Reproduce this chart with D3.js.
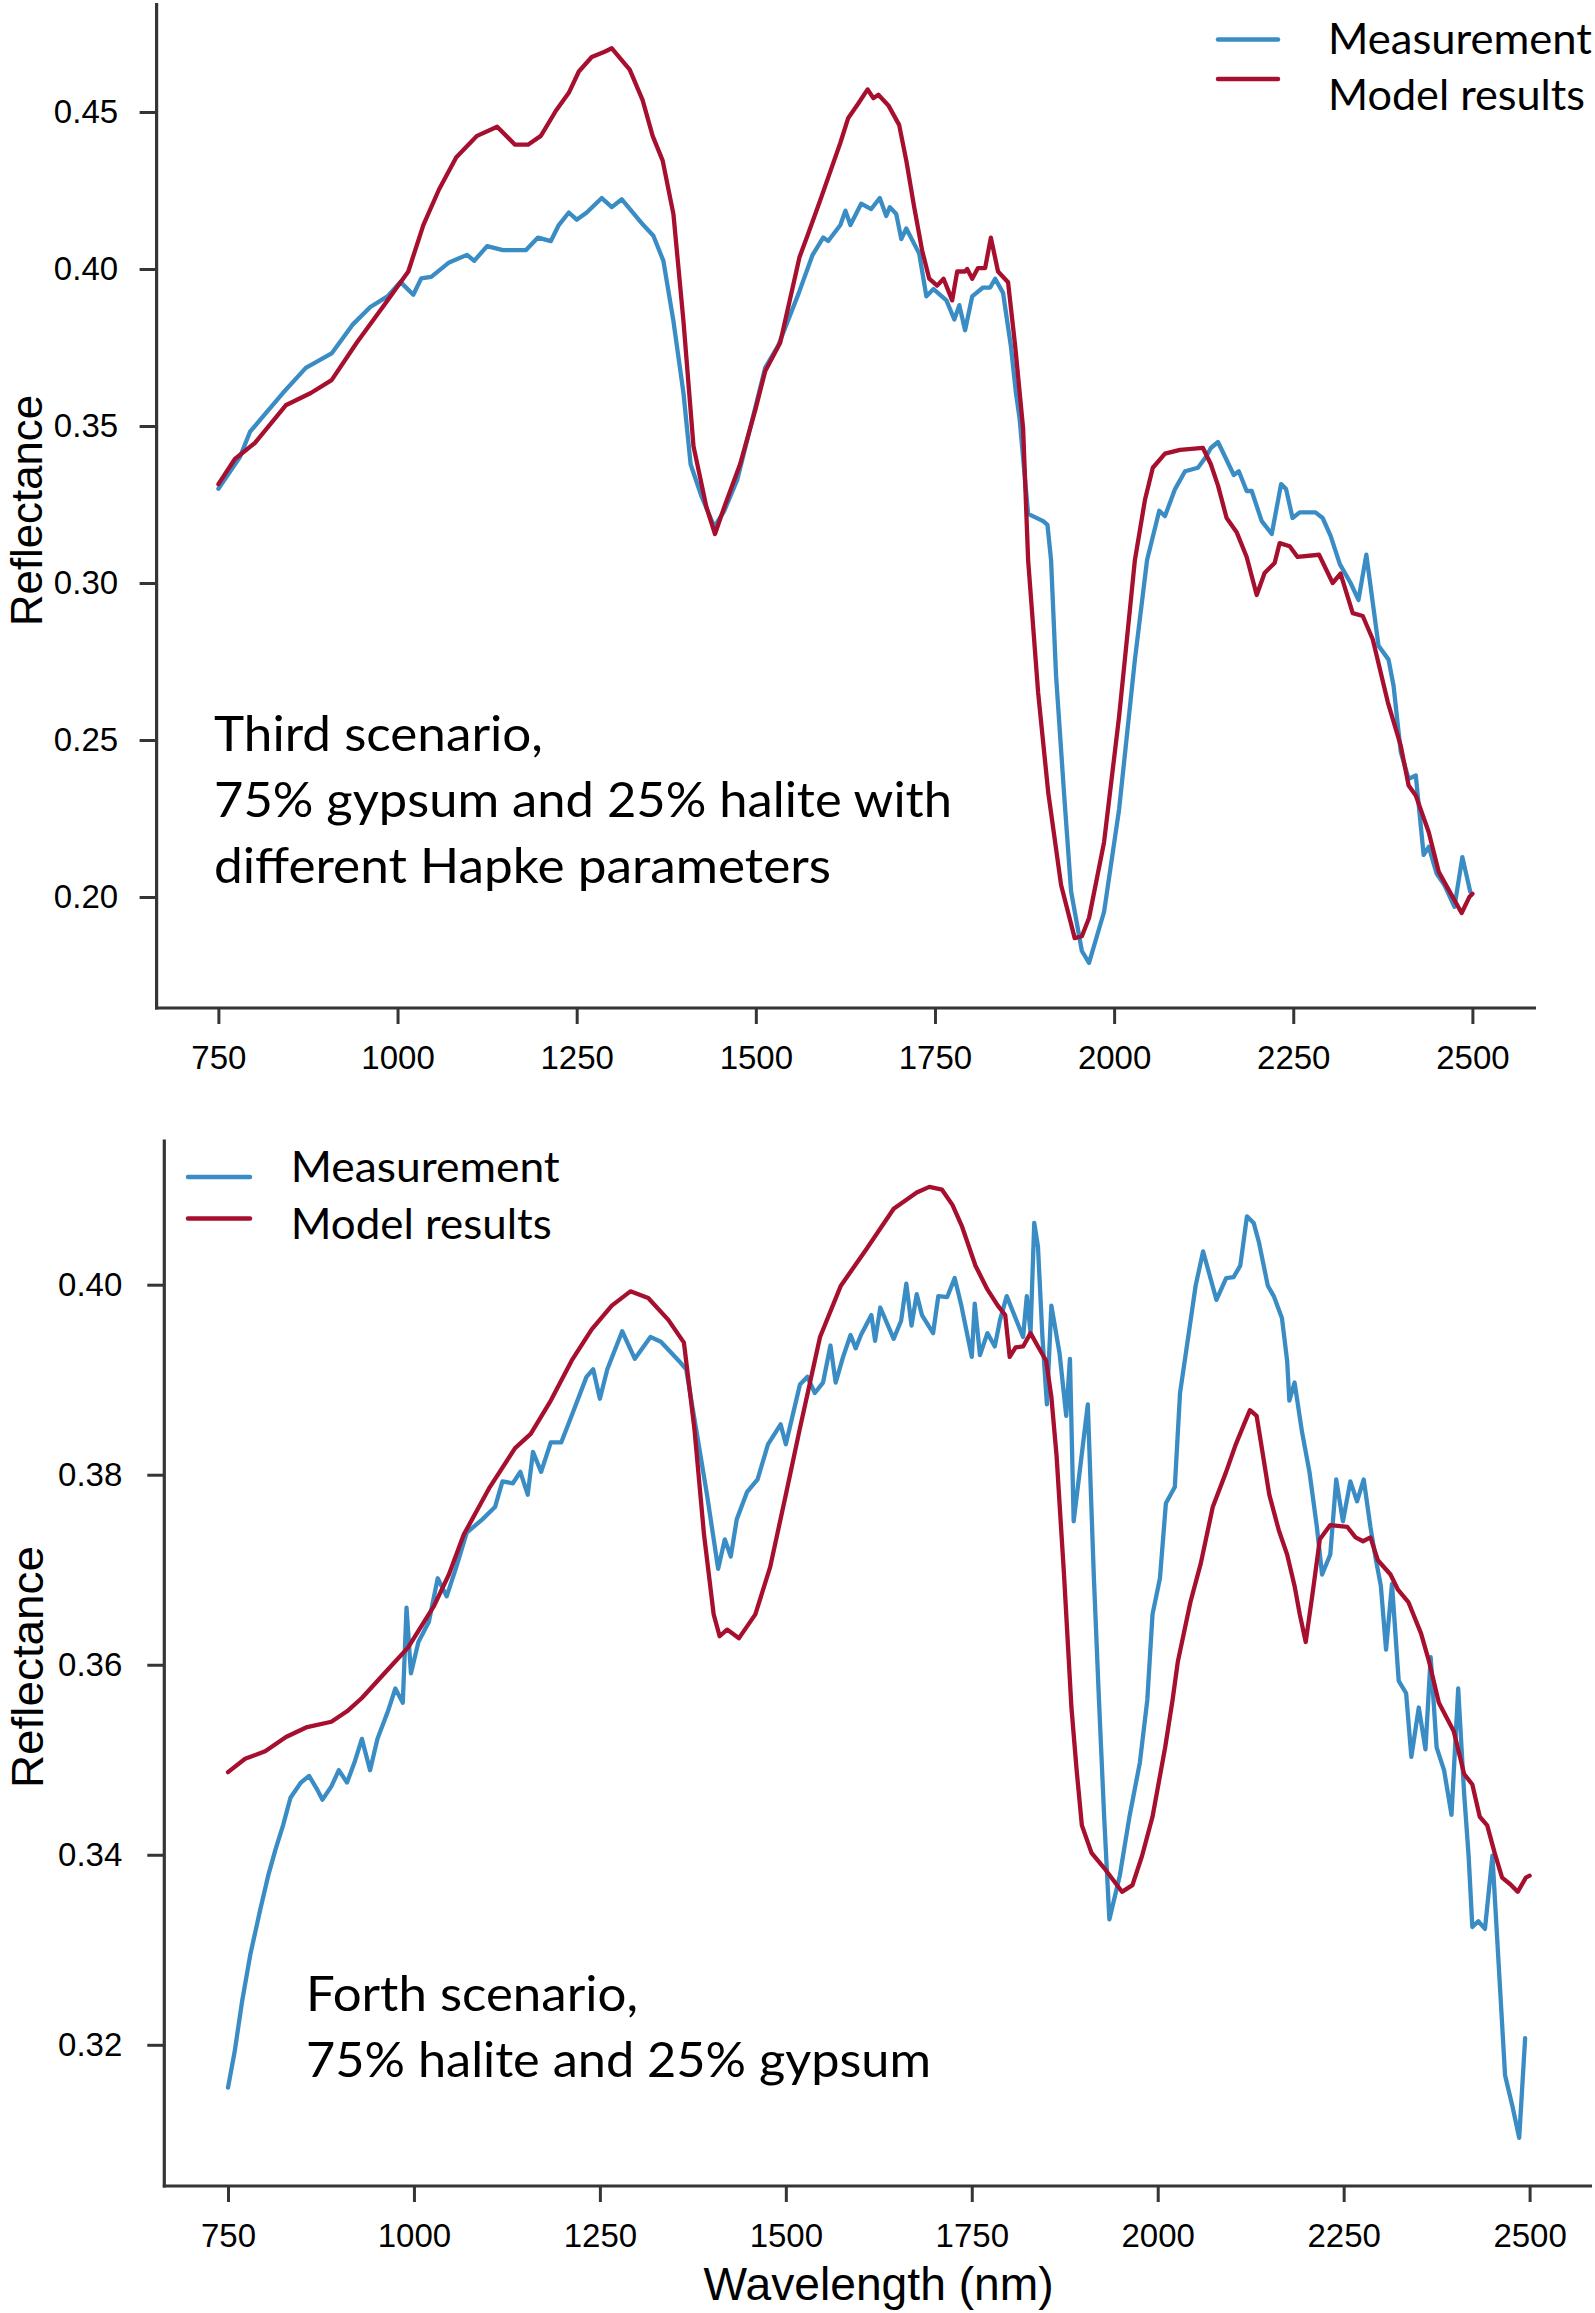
<!DOCTYPE html>
<html>
<head>
<meta charset="utf-8">
<script src="https://cdn.jsdelivr.net/npm/d3@7"></script>
<style>
  html, body { margin: 0; padding: 0; background: #fff; }
  svg { display: block; }
</style>
</head>
<body>
<svg id="chart" width="1595" height="2313"></svg>
<script>
// ---------------- DATA ----------------
const xTickValues = [750, 1000, 1250, 1500, 1750, 2000, 2250, 2500];
const topYTickValues = [0.20, 0.25, 0.30, 0.35, 0.40, 0.45];
const bottomYTickValues = [0.32, 0.34, 0.36, 0.38, 0.40];
const seriesNames = ["Measurement", "Model results"];
const topAnnotation = ["Third scenario,", "75% gypsum and 25% halite with", "different Hapke parameters"];
const bottomAnnotation = ["Forth scenario,", "75% halite and 25% gypsum"];
const xTitle = "Wavelength (nm)";
const yTitle = "Reflectance";

// Third scenario – measurement [wavelength nm, reflectance]
const thirdMeasurement = [
[750,0.330],[780,0.3401],[794,0.3481],[815,0.3538],[840,0.3605],[872,0.3685],[908,0.3731],[937,0.3822],
[962,0.3879],[986,0.3913],[1004,0.3959],[1022,0.3918],[1033,0.397],[1047,0.3975],[1072,0.4021],[1097,0.4045],
[1107,0.4026],[1125,0.4073],[1147,0.406],[1179,0.406],[1196,0.410],[1214,0.4089],[1225,0.414],[1239,0.418],
[1250,0.4157],[1264,0.418],[1285,0.4226],[1299,0.4197],[1313,0.4222],[1343,0.414],[1357,0.4106],[1371,0.4026],
[1385,0.3834],[1399,0.3605],[1409,0.3378],[1424,0.3277],[1442,0.3179],[1456,0.323],[1474,0.3328],[1492,0.3492],
[1513,0.3685],[1531,0.3755],[1560,0.3924],[1579,0.4044],[1594,0.410],[1601,0.4089],[1618,0.414],[1625,0.4186],
[1632,0.414],[1647,0.4208],[1661,0.4191],[1673,0.4226],[1682,0.4169],[1687,0.4197],[1696,0.4175],[1703,0.4095],
[1710,0.4129],[1728,0.4049],[1738,0.3913],[1748,0.3936],[1766,0.390],[1777,0.3839],[1784,0.3885],[1792,0.3805],
[1802,0.3913],[1817,0.3941],[1827,0.3941],[1834,0.3969],[1845,0.3924],[1856,0.3753],[1863,0.3605],[1868,0.3526],
[1880,0.322],[1901,0.3197],[1907,0.3185],[1912,0.3073],[1919,0.2704],[1930,0.2334],[1940,0.2017],[1955,0.1828],
[1965,0.179],[1986,0.1953],[2007,0.228],[2029,0.2756],[2046,0.3073],[2063,0.323],[2071,0.3213],[2085,0.3299],
[2099,0.3356],[2117,0.3367],[2128,0.3401],[2135,0.343],[2145,0.3449],[2167,0.3344],[2174,0.3356],[2185,0.3293],
[2192,0.3293],[2206,0.3197],[2220,0.3156],[2233,0.3315],[2240,0.3299],[2249,0.3207],[2259,0.3225],[2281,0.3225],
[2291,0.3207],[2302,0.3151],[2315,0.306],[2330,0.300],[2341,0.2946],[2352,0.309],[2369,0.280],[2383,0.2756],
[2390,0.2672],[2400,0.2462],[2411,0.2376],[2421,0.2387],[2432,0.2134],[2439,0.216],[2450,0.2075],[2461,0.2038],
[2475,0.1969],[2486,0.2127],[2497,0.2017]
];

// Third scenario – model results
const thirdModel = [
[750,0.3315],[773,0.3395],[801,0.3446],[844,0.3566],[879,0.3605],[908,0.3646],[943,0.3765],[986,0.390],
[1015,0.3992],[1036,0.414],[1058,0.4254],[1082,0.4356],[1111,0.4424],[1139,0.4453],[1164,0.4396],[1182,0.4396],
[1200,0.4424],[1221,0.4504],[1239,0.4561],[1253,0.4629],[1271,0.4675],[1289,0.4692],[1299,0.4703],[1324,0.4635],
[1342,0.4538],[1356,0.4424],[1370,0.4345],[1385,0.4175],[1399,0.3834],[1413,0.3436],[1431,0.3242],[1443,0.3156],
[1456,0.3242],[1478,0.3378],[1499,0.3549],[1513,0.3674],[1534,0.3765],[1561,0.4038],[1572,0.4106],[1590,0.422],
[1604,0.4311],[1618,0.4402],[1629,0.4481],[1643,0.4527],[1656,0.4572],[1664,0.4544],[1671,0.4555],[1685,0.4521],
[1700,0.4459],[1710,0.4345],[1721,0.4197],[1732,0.406],[1742,0.3969],[1753,0.3947],[1762,0.3969],[1774,0.390],
[1781,0.3992],[1792,0.3992],[1795,0.400],[1802,0.3969],[1810,0.4003],[1820,0.4003],[1828,0.410],[1838,0.3992],
[1852,0.3958],[1862,0.3753],[1873,0.3492],[1880,0.3073],[1894,0.265],[1908,0.2334],[1926,0.2038],[1945,0.1869],
[1955,0.1875],[1965,0.1933],[1986,0.2175],[2007,0.2576],[2029,0.3073],[2043,0.3264],[2054,0.3367],[2071,0.3412],
[2092,0.3424],[2124,0.343],[2135,0.3378],[2145,0.331],[2157,0.3207],[2171,0.3162],[2185,0.3083],[2199,0.2962],
[2210,0.3032],[2224,0.3064],[2231,0.3127],[2245,0.3117],[2256,0.3083],[2286,0.309],[2305,0.300],[2316,0.303],
[2333,0.2904],[2347,0.2895],[2361,0.282],[2382,0.262],[2400,0.2482],[2411,0.2355],[2421,0.2323],[2439,0.2207],
[2453,0.208],[2471,0.2006],[2485,0.1949],[2496,0.2001],[2500,0.201]
];

// Forth scenario – measurement
const forthMeasurement = [
[750,0.3155],[759,0.3193],[769,0.3246],[780,0.3295],[793,0.3341],[804,0.3378],[814,0.3406],[824,0.3431],
[834,0.346],[848,0.3476],[859,0.3483],[869,0.347],[877,0.3458],[889,0.3472],[899,0.3489],[910,0.3476],
[920,0.3497],[930,0.3522],[941,0.3489],[951,0.3522],[965,0.3551],[975,0.3575],[985,0.356],[990,0.366],
[996,0.3591],[1006,0.3624],[1020,0.3645],[1032,0.3691],[1044,0.3672],[1057,0.3703],[1071,0.3739],[1092,0.3753],
[1109,0.3766],[1119,0.3793],[1133,0.3791],[1143,0.3803],[1153,0.3779],[1160,0.3824],[1171,0.3803],[1184,0.3834],
[1198,0.3834],[1212,0.3862],[1232,0.3903],[1241,0.3911],[1250,0.388],[1260,0.3911],[1280,0.3951],[1297,0.3922],
[1318,0.3945],[1332,0.394],[1356,0.392],[1366,0.3911],[1380,0.3845],[1394,0.3779],[1409,0.3701],[1418,0.3732],
[1426,0.3714],[1434,0.3753],[1448,0.3782],[1462,0.3795],[1476,0.3832],[1493,0.3853],[1500,0.3832],[1519,0.3895],
[1529,0.3903],[1539,0.3886],[1550,0.3897],[1560,0.3936],[1567,0.3897],[1577,0.3924],[1587,0.3947],[1594,0.3933],
[1601,0.3947],[1615,0.3968],[1620,0.3941],[1627,0.3976],[1645,0.3943],[1655,0.3962],[1662,0.4001],[1669,0.3957],
[1676,0.399],[1683,0.3968],[1698,0.3949],[1705,0.3988],[1717,0.3987],[1727,0.4007],[1736,0.3978],[1750,0.3924],
[1754,0.398],[1761,0.3926],[1771,0.3949],[1781,0.3935],[1788,0.3963],[1797,0.3988],[1819,0.3945],[1824,0.3988],
[1829,0.395],[1834,0.4065],[1839,0.404],[1845,0.3945],[1851,0.3874],[1857,0.3978],[1868,0.3928],[1877,0.3862],
[1882,0.3922],[1887,0.3751],[1906,0.3874],[1914,0.3695],[1921,0.3563],[1928,0.344],[1935,0.3332],[1949,0.3378],
[1962,0.344],[1976,0.3497],[1986,0.3563],[1993,0.3653],[2003,0.3691],[2011,0.377],[2023,0.3787],[2030,0.3886],
[2041,0.3945],[2051,0.3999],[2061,0.4035],[2079,0.3984],[2092,0.4007],[2102,0.4008],[2111,0.402],[2120,0.4072],
[2129,0.4065],[2136,0.4045],[2148,0.3999],[2156,0.3988],[2167,0.3965],[2174,0.392],[2177,0.3878],[2184,0.3897],
[2194,0.3845],[2204,0.3803],[2214,0.3745],[2221,0.3695],[2232,0.3716],[2240,0.3795],[2249,0.3751],[2259,0.3793],
[2268,0.3772],[2277,0.3795],[2286,0.3745],[2293,0.3712],[2300,0.3683],[2307,0.3616],[2315,0.3685],[2324,0.3583],
[2334,0.357],[2341,0.3503],[2351,0.3555],[2360,0.3511],[2367,0.3608],[2375,0.3513],[2385,0.3489],[2395,0.3442],
[2404,0.3575],[2412,0.3464],[2418,0.3399],[2423,0.3324],[2431,0.333],[2440,0.3322],[2450,0.3399],[2467,0.3168],
[2477,0.3135],[2486,0.3102],[2494,0.3207]
];

// Forth scenario – model results
const forthModel = [
[750,0.3487],[773,0.3501],[800,0.3509],[828,0.3524],[855,0.3534],[889,0.354],[910,0.3551],[930,0.3565],
[965,0.3595],[992,0.3618],[1027,0.3662],[1047,0.3695],[1067,0.3737],[1102,0.3787],[1136,0.3828],[1157,0.3843],
[1184,0.3878],[1212,0.392],[1239,0.3953],[1266,0.3978],[1291,0.3993],[1315,0.3986],[1342,0.3963],[1363,0.3939],
[1377,0.3849],[1390,0.3737],[1403,0.3653],[1411,0.363],[1421,0.3637],[1437,0.3628],[1459,0.3653],[1479,0.3703],
[1500,0.3779],[1519,0.3849],[1546,0.3945],[1574,0.3999],[1608,0.4037],[1645,0.408],[1676,0.4097],[1693,0.4103],
[1710,0.41],[1724,0.4084],[1737,0.4061],[1755,0.402],[1771,0.3995],[1785,0.3978],[1795,0.3968],[1801,0.3924],
[1809,0.3934],[1819,0.3935],[1829,0.3949],[1839,0.3935],[1850,0.392],[1857,0.3882],[1864,0.382],[1874,0.3695],
[1884,0.3555],[1891,0.3489],[1898,0.3431],[1911,0.3402],[1928,0.3386],[1952,0.3361],[1966,0.3368],[1979,0.3399],
[1993,0.344],[2010,0.3513],[2020,0.3563],[2027,0.3603],[2044,0.3666],[2058,0.3707],[2074,0.3766],[2092,0.3803],
[2105,0.3832],[2116,0.3853],[2124,0.3868],[2133,0.3862],[2140,0.3828],[2150,0.3779],[2163,0.3741],[2174,0.3716],
[2184,0.3683],[2191,0.3653],[2199,0.3624],[2208,0.3674],[2218,0.3732],[2232,0.3747],[2255,0.3745],[2266,0.3734],
[2276,0.373],[2286,0.3734],[2296,0.371],[2313,0.3695],[2323,0.3679],[2337,0.3666],[2354,0.3633],[2365,0.3603],
[2378,0.356],[2398,0.353],[2412,0.3485],[2423,0.3474],[2433,0.344],[2443,0.3431],[2453,0.3402],[2463,0.3376],
[2474,0.3369],[2484,0.3361],[2495,0.3376],[2500,0.3378]
];

// ---------------- STYLE / LAYOUT ----------------
const colors = { measurement: "#3a8cc4", model: "#a60f2d" };
const axisColor = "#353535";
const tickFont = "'Liberation Sans', Arial, sans-serif";
const textFont = "Lato, 'Open Sans', sans-serif";

const panels = [
  {
    frame: { left: 156.6, top: 3, right: 1536, bottom: 1008 },
    xRange: [218.4, 1472.4],
    yDomain: [0.20, 0.45], yRange: [897, 112],
    yTicks: topYTickValues, yPadding: 21.5,
    meas: thirdMeasurement, model: thirdModel,
    legend: { x1: 1218, x2: 1278, lineY: [39.5, 79], textX: 1328, baseY: [53.6, 110], widths: [264, 257], size: 42 },
    note: { x: 214, baseY: [750.5, 816.5, 882.5], widths: [329, 738, 617], size: 49, lines: topAnnotation },
    yTitle: { x: 42, y: 510.5, len: 231 },
    xTitle: null
  },
  {
    frame: { left: 164.3, top: 1139.5, right: 1592, bottom: 2186 },
    xRange: [228, 1529.6],
    yDomain: [0.32, 0.40], yRange: [2044.8, 1284.7],
    yTicks: bottomYTickValues, yPadding: 25,
    meas: forthMeasurement, model: forthModel,
    legend: { x1: 188, x2: 250, lineY: [1177, 1218.6], textX: 290.8, baseY: [1182.2, 1239.2], widths: [269, 261], size: 42 },
    note: { x: 306, baseY: [2010.8, 2077], widths: [332, 625], size: 49, lines: bottomAnnotation },
    yTitle: { x: 43, y: 1667, len: 242 },
    xTitle: { x: 878.6, y: 2300, len: 350 }
  }
];

const svg = d3.select("#chart");

panels.forEach(p => {
  const g = svg.append("g");
  const x = d3.scaleLinear().domain([750, 2500]).range(p.xRange);
  const y = d3.scaleLinear().domain(p.yDomain).range(p.yRange);

  // x axis
  const xg = g.append("g")
    .attr("transform", `translate(0,${p.frame.bottom})`)
    .call(d3.axisBottom(x).tickValues(xTickValues).tickSize(16).tickPadding(22).tickFormat(d3.format("d")));
  xg.select(".domain").remove();
  // y axis
  const yg = g.append("g")
    .attr("transform", `translate(${p.frame.left},0)`)
    .call(d3.axisLeft(y).tickValues(p.yTicks).tickSize(17).tickPadding(p.yPadding).tickFormat(d3.format(".2f")));
  yg.select(".domain").remove();

  [xg, yg].forEach(a => {
    a.selectAll(".tick line").attr("stroke", axisColor).attr("stroke-width", 3);
    a.selectAll(".tick text").attr("fill", "#000").style("font-family", tickFont).style("font-size", "33px");
  });

  // axis lines (L shape)
  g.append("line").attr("x1", p.frame.left).attr("x2", p.frame.left)
    .attr("y1", p.frame.top).attr("y2", p.frame.bottom + 1.5)
    .attr("stroke", axisColor).attr("stroke-width", 3.2);
  g.append("line").attr("x1", p.frame.left - 1.5).attr("x2", p.frame.right)
    .attr("y1", p.frame.bottom).attr("y2", p.frame.bottom)
    .attr("stroke", axisColor).attr("stroke-width", 3.2);

  // lines
  const line = d3.line().x(d => x(d[0])).y(d => y(d[1])).curve(d3.curveLinear);
  g.append("path").datum(p.meas).attr("d", line)
    .attr("fill", "none").attr("stroke", colors.measurement).attr("stroke-width", 4.3)
    .attr("stroke-linejoin", "round").attr("stroke-linecap", "round");
  g.append("path").datum(p.model).attr("d", line)
    .attr("fill", "none").attr("stroke", colors.model).attr("stroke-width", 4.3)
    .attr("stroke-linejoin", "round").attr("stroke-linecap", "round");

  // legend
  const lc = [colors.measurement, colors.model];
  seriesNames.forEach((name, i) => {
    g.append("line").attr("x1", p.legend.x1).attr("x2", p.legend.x2)
      .attr("y1", p.legend.lineY[i]).attr("y2", p.legend.lineY[i])
      .attr("stroke", lc[i]).attr("stroke-width", 4.5).attr("stroke-linecap", "round");
    g.append("text").attr("x", p.legend.textX).attr("y", p.legend.baseY[i])
      .attr("textLength", p.legend.widths[i]).attr("lengthAdjust", "spacingAndGlyphs")
      .style("font-family", textFont).style("font-size", p.legend.size + "px").attr("fill", "#000")
      .text(name);
  });

  // annotation
  p.note.lines.forEach((t, i) => {
    g.append("text").attr("x", p.note.x).attr("y", p.note.baseY[i])
      .attr("textLength", p.note.widths[i]).attr("lengthAdjust", "spacingAndGlyphs")
      .style("font-family", textFont).style("font-size", p.note.size + "px").attr("fill", "#000")
      .text(t);
  });

  // y title
  g.append("text")
    .attr("transform", `translate(${p.yTitle.x},${p.yTitle.y}) rotate(-90)`)
    .attr("text-anchor", "middle")
    .attr("textLength", p.yTitle.len).attr("lengthAdjust", "spacingAndGlyphs")
    .style("font-family", tickFont).style("font-size", "44px").attr("fill", "#000")
    .text(yTitle);

  if (p.xTitle) {
    g.append("text").attr("x", p.xTitle.x).attr("y", p.xTitle.y)
      .attr("text-anchor", "middle")
      .attr("textLength", p.xTitle.len).attr("lengthAdjust", "spacingAndGlyphs")
      .style("font-family", tickFont).style("font-size", "46px").attr("fill", "#000")
      .text(xTitle);
  }
});
</script>
</body>
</html>
